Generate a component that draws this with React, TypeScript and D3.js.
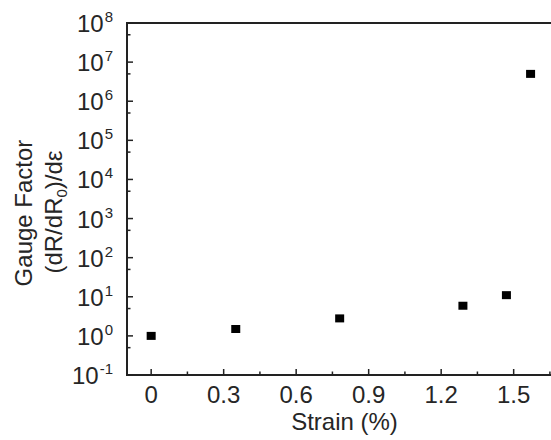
import React from "react";
import * as d3 from "d3";

const strain = [0, 0.35, 0.78, 1.29, 1.47, 1.57];
const gauge = [1.0, 1.5, 2.8, 5.9, 11, 5.0e6];
const xTickValues = [0, 0.3, 0.6, 0.9, 1.2, 1.5];
const xTickLabels = ["0", "0.3", "0.6", "0.9", "1.2", "1.5"];
const yTickExponents = [-1, 0, 1, 2, 3, 4, 5, 6, 7, 8];
const xTitle = "Strain (%)";
const yTitleLine1 = "Gauge Factor";

const W = 551;
const H = 440;
const left = 127;
const right = 562;
const top = 23;
const bottom = 375;
const FONT = "'Liberation Sans', Arial, Helvetica, sans-serif";

export default function App() {
  const x = d3.scaleLinear().domain([-0.1, 1.7]).range([left, right]);
  const y = d3.scaleLog().domain([1e-1, 1e8]).range([bottom, top]);

  const xMinor = d3.range(0.15, 1.7, 0.3);
  const yMinor = yTickExponents.slice(0, -1).map((e) => 5 * Math.pow(10, e));
  const pts = strain.map((s, i) => ({ s, g: gauge[i] }));
  const fs = 24;
  const ink = "#262626";

  return (
    <svg
      width={W}
      height={H}
      style={{ position: "absolute", left: 0, top: 0, background: "#fff" }}
      fontFamily={FONT}
    >
      <rect x={0} y={0} width={W} height={H} fill="#fff" />
      {/* axes frame */}
      <line x1={left} x2={right} y1={top} y2={top} stroke="#222" strokeWidth={2} />
      <line x1={left} x2={left} y1={top - 1} y2={bottom + 1} stroke="#222" strokeWidth={2} />
      <line x1={left - 1} x2={right} y1={bottom} y2={bottom} stroke="#222" strokeWidth={2} />

      {/* y ticks */}
      {yTickExponents.map((e) => {
        const yy = y(Math.pow(10, e));
        return (
          <g key={"y" + e}>
            <line x1={left} x2={left + 6} y1={yy} y2={yy} stroke="#222" strokeWidth={1.5} />
            <text x={113} y={yy + 9} textAnchor="end" fontSize={fs} fill={ink}>
              10
              <tspan fontSize={15} dx={1} dy={-10}>
                {e < 0 ? "-" + Math.abs(e) : String(e)}
              </tspan>
            </text>
          </g>
        );
      })}
      {yMinor.map((v, i) => (
        <line key={"ym" + i} x1={left} x2={left + 3.5} y1={y(v)} y2={y(v)} stroke="#222" strokeWidth={1.5} />
      ))}

      {/* x ticks */}
      {xTickValues.map((v, i) => (
        <g key={"x" + i}>
          <line x1={x(v)} x2={x(v)} y1={bottom} y2={bottom - 6} stroke="#222" strokeWidth={1.5} />
          <text x={x(v)} y={403} textAnchor="middle" fontSize={fs} fill={ink}>
            {xTickLabels[i]}
          </text>
        </g>
      ))}
      {xMinor.map((v, i) => (
        <line key={"xm" + i} x1={x(v)} x2={x(v)} y1={bottom} y2={bottom - 3.5} stroke="#222" strokeWidth={1.5} />
      ))}

      {/* points */}
      {pts.map((p, i) => (
        <rect key={"p" + i} x={x(p.s) - 4.5} y={y(p.g) - 4} width={9} height={8} fill="#000" />
      ))}

      {/* titles */}
      <text x={(left + right) / 2} y={430} textAnchor="middle" fontSize={fs} fill={ink}>
        {xTitle}
      </text>
      <text transform="translate(32,213) rotate(-90)" textAnchor="middle" fontSize={fs} fill={ink}>
        {yTitleLine1}
      </text>
      <text transform="translate(62,212) rotate(-90)" textAnchor="middle" fontSize={fs} fill={ink}>
        (dR/dR
        <tspan fontSize={15} dy={5}>0</tspan>
        <tspan dy={-5}>)/dε</tspan>
      </text>
    </svg>
  );
}
